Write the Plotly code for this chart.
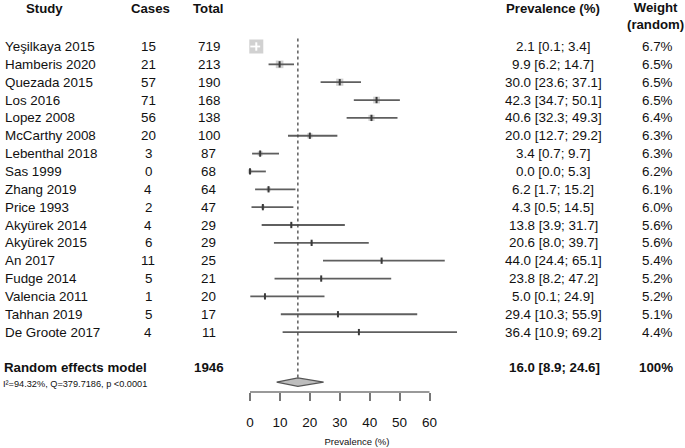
import math
import plotly.graph_objects as go

# ---------------- data ----------------
studies = ["Yeşilkaya 2015", "Hamberis 2020", "Quezada 2015", "Los 2016", "Lopez 2008",
           "McCarthy 2008", "Lebenthal 2018", "Sas 1999", "Zhang 2019", "Price 1993",
           "Akyürek 2014", "Akyürek 2015", "An 2017", "Fudge 2014", "Valencia 2011",
           "Tahhan 2019", "De Groote 2017"]
cases = [15, 21, 57, 71, 56, 20, 3, 0, 4, 2, 4, 6, 11, 5, 1, 5, 4]
totals = [719, 213, 190, 168, 138, 100, 87, 68, 64, 47, 29, 29, 25, 21, 20, 17, 11]
prev = [2.1, 9.9, 30.0, 42.3, 40.6, 20.0, 3.4, 0.0, 6.2, 4.3, 13.8, 20.6, 44.0, 23.8, 5.0, 29.4, 36.4]
lower = [0.1, 6.2, 23.6, 34.7, 32.3, 12.7, 0.7, 0.0, 1.7, 0.5, 3.9, 8.0, 24.4, 8.2, 0.1, 10.3, 10.9]
upper = [3.4, 14.7, 37.1, 50.1, 49.3, 29.2, 9.7, 5.3, 15.2, 14.5, 31.7, 39.7, 65.1, 47.2, 24.9, 55.9, 69.2]
weights = ["6.7%", "6.5%", "6.5%", "6.5%", "6.4%", "6.3%", "6.3%", "6.2%", "6.1%", "6.0%",
           "5.6%", "5.6%", "5.4%", "5.2%", "5.2%", "5.1%", "4.4%"]

pooled_label = "Random effects model"
pooled_total = 1946
pooled_est, pooled_lo, pooled_hi = 16.0, 8.9, 24.6
pooled_weight = "100%"
het_text = "I²=94.32%, Q=379.7186, p <0.0001"

tick_vals = [0, 10, 20, 30, 40, 50, 60]
x_title = "Prevalence (%)"
headers = ["Study", "Cases", "Total", "Prevalence (%)", "Weight<br>(random)"]

# ---------------- geometry / style ----------------
W, H = 685, 448
FONT = "Liberation Sans, Arial, sans-serif"
TXT = "#111111"
LINE = "#5f5f5f"
BOX = "#bdbdbd"

px_per_unit = (429.5 - 250.0) / 60.0
x_dom_px = (244, 470)
x_range = [(x_dom_px[0] - 250.0) / px_per_unit, (x_dom_px[1] - 250.0) / px_per_unit]

row0_px, row_step = 46.5, 17.85
plot_bottom_px = 392
y_range = [(plot_bottom_px - row0_px) / row_step, (0 - row0_px) / row_step]

rows = list(range(len(studies)))
pooled_row = len(studies) + 1
diamond_row = pooled_row + 0.8
diamond_half = 4.2 / row_step

max_side = 14.0
sides = [max(1.8, max_side * math.sqrt(t / max(totals))) for t in totals]

fig = go.Figure()

# squares
fig.add_trace(go.Scatter(
    x=prev, y=rows, mode="markers",
    marker=dict(symbol="square", size=sides, color=BOX, line=dict(width=0)),
    hoverinfo="skip", showlegend=False))

# CI lines (white if completely inside the box)
dark_x, dark_y, white_x, white_y = [], [], [], []
dark_px, dark_py, white_px, white_py = [], [], [], []
for r, p, lo, hi, s in zip(rows, prev, lower, upper, sides):
    half = s / 2.0 / px_per_unit
    inside = (p - lo) < half and (hi - p) < half
    if inside:
        white_x += [lo, hi, None]; white_y += [r, r, None]
        white_px.append(p); white_py.append(r)
    else:
        dark_x += [lo, hi, None]; dark_y += [r, r, None]
        dark_px.append(p); dark_py.append(r)

fig.add_trace(go.Scatter(x=dark_x, y=dark_y, mode="lines",
                         line=dict(color=LINE, width=1.8),
                         hoverinfo="skip", showlegend=False))
fig.add_trace(go.Scatter(x=white_x, y=white_y, mode="lines",
                         line=dict(color="white", width=1.8),
                         hoverinfo="skip", showlegend=False))
fig.add_trace(go.Scatter(x=dark_px, y=dark_py, mode="markers",
                         marker=dict(symbol="line-ns", size=4.5, line=dict(color="#3a3a3a", width=2)),
                         hoverinfo="skip", showlegend=False))
fig.add_trace(go.Scatter(x=white_px, y=white_py, mode="markers",
                         marker=dict(symbol="line-ns", size=6, line=dict(color="white", width=2)),
                         hoverinfo="skip", showlegend=False))

# dotted vertical line at pooled estimate
fig.add_trace(go.Scatter(x=[pooled_est, pooled_est], y=[-0.45, diamond_row - diamond_half],
                         mode="lines", line=dict(color="#444444", width=1.3, dash="dot"),
                         hoverinfo="skip", showlegend=False))

# diamond
fig.add_trace(go.Scatter(
    x=[pooled_lo, pooled_est, pooled_hi, pooled_est, pooled_lo],
    y=[diamond_row, diamond_row - diamond_half, diamond_row, diamond_row + diamond_half, diamond_row],
    mode="lines", fill="toself", fillcolor=BOX,
    line=dict(color="#555555", width=1.2),
    hoverinfo="skip", showlegend=False))

# axis baseline from first to last tick
fig.add_shape(type="line", xref="x", yref="y domain", x0=tick_vals[0], x1=tick_vals[-1],
              y0=0, y1=0, line=dict(color="#777777", width=1.5))

# ---------------- text columns ----------------
def px(xp):
    return xp / W

def py(yp):
    return 1 - yp / H

ann = []
def add_text(x, y, text, xanchor="center", size=13.4, bold=False, yref="y"):
    ann.append(dict(
        x=x, y=y, xref="paper", yref=yref, text=f"<b>{text}</b>" if bold else text,
        showarrow=False, xanchor=xanchor, yanchor="middle",
        font=dict(family=FONT, size=size, color=TXT)))

# headers
add_text(px(44.5), py(8), headers[0], bold=True, size=13.2, yref="paper")
add_text(px(150), py(8), headers[1], bold=True, size=13.2, yref="paper")
add_text(px(208), py(8), headers[2], bold=True, size=13.2, yref="paper")
add_text(px(553), py(8), headers[3], bold=True, size=13.2, yref="paper")
add_text(px(655), py(16), headers[4], bold=True, size=13.2, yref="paper")

for r, s, c, t, p, lo, hi, w in zip(rows, studies, cases, totals, prev, lower, upper, weights):
    add_text(px(3), r, s, xanchor="left")
    add_text(px(148), r, str(c))
    add_text(px(208.5), r, str(t))
    add_text(px(553), r, f"{p:.1f} [{lo:.1f}; {hi:.1f}]")
    add_text(px(657), r, w)

add_text(px(2), pooled_row, pooled_label, xanchor="left", bold=True, size=13.3)
add_text(px(209), pooled_row, str(pooled_total), bold=True, size=13.3)
add_text(px(554), pooled_row, f"{pooled_est:.1f} [{pooled_lo:.1f}; {pooled_hi:.1f}]", bold=True, size=13.3)
add_text(px(656), pooled_row, pooled_weight, bold=True, size=13.3)
add_text(px(1), pooled_row + 0.88, het_text, xanchor="left", size=9.2)

fig.update_layout(
    width=W, height=H,
    margin=dict(l=0, r=0, t=0, b=0),
    paper_bgcolor="white", plot_bgcolor="white",
    annotations=ann,
    xaxis=dict(domain=[px(x_dom_px[0]), px(x_dom_px[1])], range=x_range,
               showgrid=False, zeroline=False, showline=False,
               tickmode="array", tickvals=tick_vals, ticktext=[str(v) for v in tick_vals],
               ticks="outside", ticklen=8, tickwidth=1.5, tickcolor="#777777",
               ticklabelstandoff=10,
               tickfont=dict(family=FONT, size=13.5, color=TXT),
               title=dict(text=x_title, font=dict(family=FONT, size=9.5, color=TXT), standoff=9)),
    yaxis=dict(domain=[1 - plot_bottom_px / H, 1], range=y_range, visible=False),
)

fig.write_html("out.html", config={"displayModeBar": False},
               post_script="document.body.style.margin='0';document.body.style.padding='0';")
